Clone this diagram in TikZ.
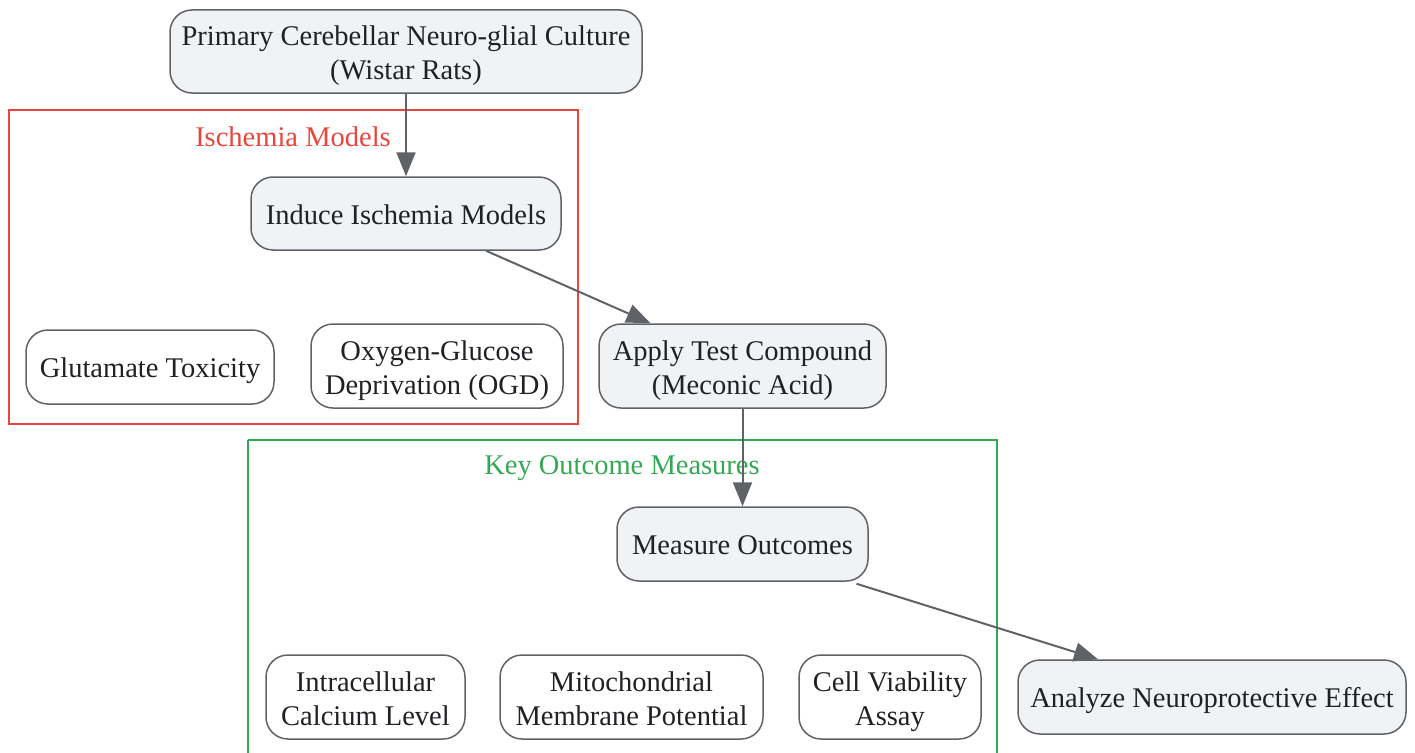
\documentclass[tikz,border=0pt]{standalone}
\usepackage{fontspec}
\setmainfont{Liberation Serif}
\usetikzlibrary{arrows.meta}
\definecolor{nodefill}{HTML}{F1F2F4}
\definecolor{nodeline}{HTML}{5F6368}
\definecolor{txt}{HTML}{202124}
\definecolor{redc}{HTML}{E8453C}
\definecolor{greenc}{HTML}{34A853}
\newcommand{\ystrut}{\rule[-6.5pt]{0pt}{34pt}}
\newcommand{\ystrutB}{\rule[-6.5pt]{0pt}{35.5pt}}
\tikzset{
  base/.style={draw=nodeline, line width=1.5pt, rounded corners=22pt, align=center,
    text=txt, font=\fontsize{28.5}{34}\selectfont, inner sep=0pt},
  grey/.style={base, fill=nodefill},
  white/.style={base, fill=white},
  conn/.style={draw=nodeline, line width=2pt, -{Triangle[length=24pt,width=19pt]}},
  cluster/.style={line width=1.5pt},
  clabel/.style={font=\fontsize{28.5}{34}\selectfont, inner sep=0pt}
}
\begin{document}
\begin{tikzpicture}[x=1pt,y=-1pt]
\useasboundingbox (0,0) rectangle (1415,752);
% clusters
\draw[cluster, draw=redc] (9,110) rectangle (578,424);
\node[clabel, text=redc] (lblisch) at (293,137) {Ischemia Models};
\draw[cluster, draw=greenc] (248,440) -- (248,770) (248,440) -- (997,440) -- (997,770);
\node[clabel, text=greenc] (lblkey) at (622,468) {Key Outcome Measures};
% nodes
\node[grey, minimum width=472pt, minimum height=83pt] (primary) at (406,51.5) {\ystrutB Primary Cerebellar Neuro-glial Culture\\\ystrut(Wistar Rats)};
\node[grey, minimum width=310pt, minimum height=73pt] (induce) at (406,213.5) {\ystrut Induce Ischemia Models};
\node[white, minimum width=248pt, minimum height=74pt] (glut) at (150,367) {\ystrut Glutamate Toxicity};
\node[white, minimum width=252pt, minimum height=84pt] (ogd) at (437,366) {\ystrutB Oxygen-Glucose\\\ystrut Deprivation (OGD)};
\node[grey, minimum width=287pt, minimum height=84pt] (apply) at (742.5,366) {\ystrutB Apply Test Compound\\\ystrut(Meconic Acid)};
\node[grey, minimum width=251pt, minimum height=74pt] (measure) at (742.5,544) {\ystrut Measure Outcomes};
\node[white, minimum width=199pt, minimum height=84pt] (calc) at (365.5,697) {\ystrutB Intracellular\\\ystrut Calcium Level};
\node[white, minimum width=263pt, minimum height=84pt] (mito) at (631.5,697) {\ystrutB Mitochondrial\\\ystrut Membrane Potential};
\node[white, minimum width=182pt, minimum height=84pt] (cell) at (890,697) {\ystrutB Cell Viability\\\ystrut Assay};
\node[grey, minimum width=388pt, minimum height=74pt] (analyze) at (1212,697) {\ystrut Analyze Neuroprotective Effect};
% connectors
\draw[conn] (primary.south) -- (induce.north);
\draw[conn] ([xshift=80pt]induce.south) -- ([xshift=-92pt]apply.north);
\draw[conn] (apply.south) -- (measure.north);
\draw[conn] ([xshift=114pt,yshift=-2pt]measure.south) -- ([xshift=-114pt]analyze.north);
\end{tikzpicture}
\end{document}
